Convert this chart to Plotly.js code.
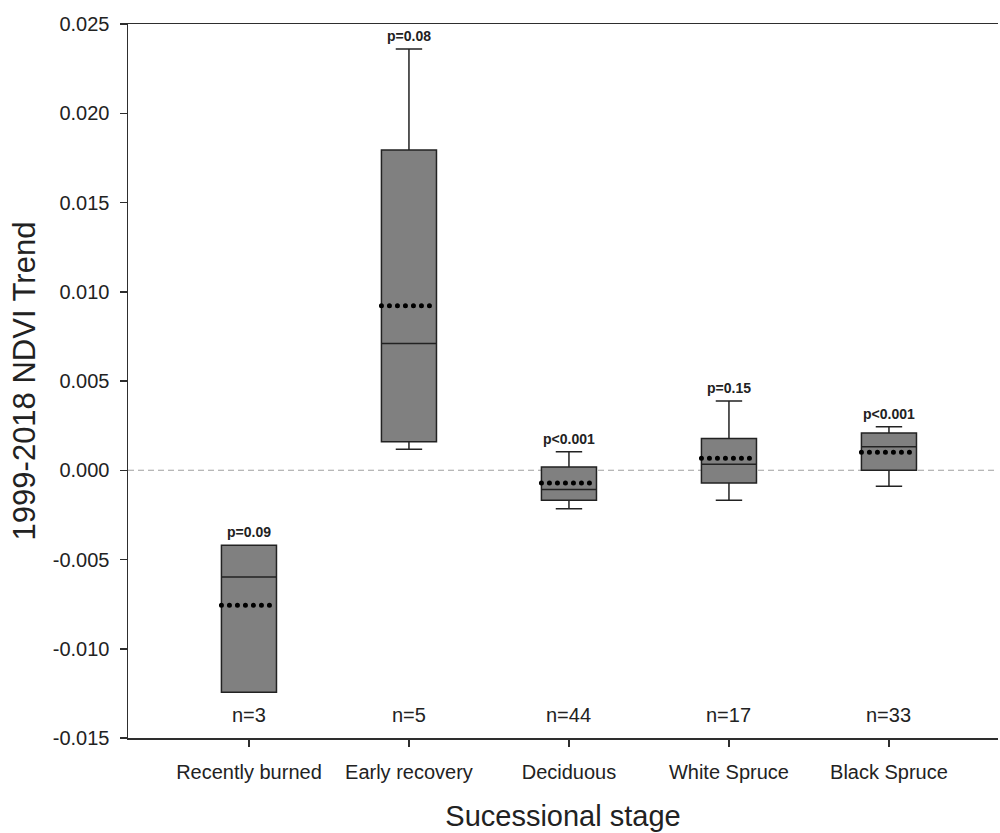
<!DOCTYPE html>
<html>
<head>
<meta charset="utf-8">
<script src="https://cdn.plot.ly/plotly-3.0.1.min.js"></script>
<style>
  html, body { margin: 0; padding: 0; background: #fff; overflow: hidden; }
  #chart { width: 1000px; height: 833px; }
  /* mean drawn as a row of round dots */
  .boxlayer path.mean {
    stroke: #000 !important;
    stroke-width: 5px !important;
    stroke-dasharray: 0 8 !important;
    stroke-linecap: round !important;
  }
</style>
</head>
<body>
<div id="chart"></div>
<script>
// ---- data ----
const categories = ["Recently burned", "Early recovery", "Deciduous", "White Spruce", "Black Spruce"];
const lowerWhisker = [-0.01243, 0.00118, -0.00215, -0.00168, -0.00090];
const q1Values     = [-0.01243, 0.00159, -0.00168, -0.00071,  0.00000];
const medianValues = [-0.00598, 0.00710, -0.00108,  0.00034,  0.00131];
const meanValues   = [-0.00757, 0.00921, -0.00071,  0.00067,  0.00101];
const q3Values     = [-0.00420, 0.01794,  0.00018,  0.00178,  0.00209];
const upperWhisker = [-0.00420, 0.02360,  0.00103,  0.00388,  0.00243];
const pLabels = ["p=0.09", "p=0.08", "p<0.001", "p=0.15", "p<0.001"];
const nCounts = [3, 5, 44, 17, 33];
const yTickVals = [-0.015, -0.010, -0.005, 0.000, 0.005, 0.010, 0.015, 0.020, 0.025];
const yTickText = ["-0.015", "-0.010", "-0.005", "0.000", "0.005", "0.010", "0.015", "0.020", "0.025"];

const FONT = "Liberation Sans, Arial, sans-serif";
const AXC = "#2e2e2e";

const trace = {
  type: "box",
  x: categories,
  q1: q1Values,
  median: medianValues,
  q3: q3Values,
  lowerfence: lowerWhisker,
  upperfence: upperWhisker,
  mean: meanValues,
  boxmean: true,
  boxpoints: false,
  width: 0.344,
  whiskerwidth: 0.48,
  fillcolor: "#808080",
  line: { color: "#222222", width: 1.5 },
  hoverinfo: "skip",
  showlegend: false
};

const annotations = [];
categories.forEach((c, i) => {
  annotations.push({
    x: c, y: upperWhisker[i], xref: "x", yref: "y",
    text: "<b>" + pLabels[i].replace("<", "&lt;") + "</b>",
    showarrow: false, yanchor: "bottom", yshift: 3,
    font: { family: FONT, size: 14, color: "#222" }
  });
  annotations.push({
    x: c, y: 0.032, xref: "x", yref: "paper",
    text: "n=" + nCounts[i],
    showarrow: false, yanchor: "middle",
    font: { family: FONT, size: 20, color: "#222" }
  });
});

const layout = {
  width: 1000, height: 833,
  margin: { l: 128, r: 2, t: 24, b: 95 },
  paper_bgcolor: "#fff", plot_bgcolor: "#fff",
  font: { family: FONT, size: 20, color: "#222" },
  showlegend: false,
  xaxis: {
    type: "category",
    range: [-0.756, 4.6815],
    showgrid: false, zeroline: false,
    showline: true, mirror: true, linecolor: AXC, linewidth: 1.5,
    ticks: "outside", ticklen: 7, tickwidth: 1.5, tickcolor: AXC,
    tickfont: { family: FONT, size: 20, color: "#222" },
    ticklabelstandoff: 8,
    title: { text: "Sucessional stage", font: { family: FONT, size: 29, color: "#222" }, standoff: 24 }
  },
  yaxis: {
    range: [-0.015, 0.025],
    tickmode: "array", tickvals: yTickVals, ticktext: yTickText,
    showgrid: false, zeroline: false,
    showline: true, mirror: false, linecolor: AXC, linewidth: 1.5,
    ticks: "outside", ticklen: 7, tickwidth: 1.5, tickcolor: AXC,
    tickfont: { family: FONT, size: 20, color: "#222" },
    ticklabelstandoff: 6,
    title: { text: "1999-2018 NDVI Trend", font: { family: FONT, size: 31, color: "#222" }, standoff: 8 }
  },
  shapes: [
    {
      type: "line", xref: "paper", yref: "y", x0: 0, x1: 1, y0: 0, y1: 0,
      line: { color: "#a0a0a0", width: 1.2, dash: "6px,4px" }, layer: "below"
    }
  ],
  annotations: annotations
};

Plotly.newPlot("chart", [trace], layout, { displayModeBar: false, staticPlot: true });
</script>
</body>
</html>
